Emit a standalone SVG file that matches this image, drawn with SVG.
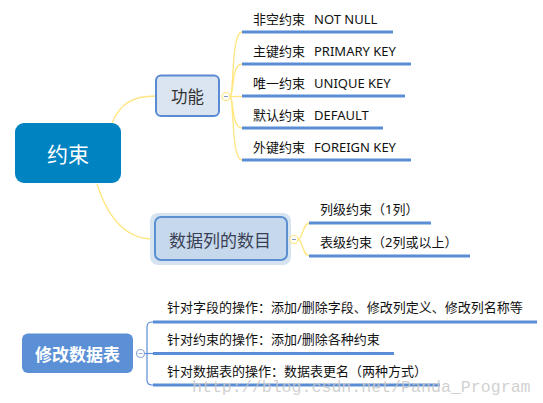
<svg xmlns="http://www.w3.org/2000/svg" width="543" height="403" viewBox="0 0 543 403">
<style>
.leaf{font-family:"Noto Sans","Noto Sans CJK SC",sans-serif;font-size:13px;fill:#111}
.bar{stroke:#5b8dd6;stroke-width:3;fill:none}
.ycon{stroke:#ffe680;stroke-width:1.3;fill:none}
.bcon{stroke:#5b8dd6;stroke-width:1.2;fill:none}
.mid{font-family:"Noto Sans CJK SC",sans-serif;text-anchor:middle;dominant-baseline:central}
</style>
<rect width="543" height="403" fill="#ffffff"/>
<g id="connectors">
  <path class="ycon" d="M112,123 C120,104 132,96 156,96"/>
  <path class="ycon" d="M97,184 C108,218 125,239 153,239"/>
  <path class="ycon" d="M230,96.5 C234,96.5 231,32 242,32"/>
  <path class="ycon" d="M230,96.5 C234,96.5 231,64 242,64"/>
  <path class="ycon" d="M230,96.5 L242,96.5"/>
  <path class="ycon" d="M230,96.5 C234,96.5 231,128 242,128"/>
  <path class="ycon" d="M230,96.5 C234,96.5 231,160 242,160"/>
  <path class="ycon" d="M298,239.5 C303,239.5 302,223 310,223"/>
  <path class="ycon" d="M298,239.5 C303,239.5 302,256 310,256"/>
  <path class="bcon" d="M145,353.5 L154,353.5"/>
  <path class="bcon" d="M154,322 L152,322 Q147,322 147,327 L147,380 Q147,385 152,385 L154,385"/>
</g>
<g id="root">
  <rect x="15" y="123" width="106" height="60" rx="9" fill="#0083c1"/>
  <text x="68" y="153" class="mid" font-size="21" fill="#ffffff">约束</text>
</g>
<g id="gongneng">
  <rect x="156" y="75.5" width="63" height="40.5" rx="5" fill="#dbe5f1" stroke="#5a8ad2" stroke-width="2"/>
  <text x="187.5" y="96" class="mid" font-size="16.5" fill="#333">功能</text>
  <circle cx="226" cy="96.5" r="4" fill="#fff" stroke="#ffe680" stroke-width="1.2"/>
  <path d="M224,96.5 h4" stroke="#8899bb" stroke-width="1"/>
</g>
<g id="c1"><text class="leaf" x="253" y="23.5">非空约束 <tspan x="314">NOT NULL</tspan></text><path class="bar" d="M242,32 H393"/></g>
<g id="c2"><text class="leaf" x="253" y="55.5">主键约束 <tspan x="314">PRIMARY KEY</tspan></text><path class="bar" d="M242,64 H411"/></g>
<g id="c3"><text class="leaf" x="253" y="87.5">唯一约束 <tspan x="314">UNIQUE KEY</tspan></text><path class="bar" d="M242,96 H405"/></g>
<g id="c4"><text class="leaf" x="253" y="119.5">默认约束 <tspan x="314">DEFAULT</tspan></text><path class="bar" d="M242,128 H383"/></g>
<g id="c5"><text class="leaf" x="253" y="151.5">外键约束 <tspan x="314">FOREIGN KEY</tspan></text><path class="bar" d="M242,160 H411"/></g>
<g id="shujulie">
  <rect x="150" y="213" width="141" height="52" rx="8" fill="#d6e3f0"/>
  <rect x="155" y="217" width="132" height="43" rx="6" fill="#c6d9ec" stroke="#5b8fd2" stroke-width="2"/>
  <text x="220" y="239" class="mid" font-size="17" fill="#3a3f55">数据列的数目</text>
  <circle cx="294" cy="239.5" r="4" fill="#fff" stroke="#ffe680" stroke-width="1.2"/>
  <path d="M292,239.5 h4" stroke="#8899bb" stroke-width="1"/>
</g>
<g id="d1"><text class="leaf" x="320" y="213.5">列级约束（1列）</text><path class="bar" d="M309,223 H431"/></g>
<g id="d2"><text class="leaf" x="320" y="247">表级约束（2列或以上）</text><path class="bar" d="M309,256 H470"/></g>
<g id="xiugai">
  <rect x="22" y="333.5" width="111" height="39.5" rx="6" fill="#5b8fd6"/>
  <text x="77.5" y="353.5" class="mid" font-size="17" font-weight="bold" fill="#ffffff">修改数据表</text>
  <circle cx="140.5" cy="353.5" r="4" fill="#fff" stroke="#8fa9d6" stroke-width="1.2"/>
  <path d="M138.5,353.5 h4" stroke="#8fa9d6" stroke-width="1"/>
</g>
<g id="e1"><text class="leaf" x="167" y="312">针对字段的操作：添加/删除字段、修改列定义、修改列名称等</text><path class="bar" d="M153,322 H537"/></g>
<g id="e2"><text class="leaf" x="167" y="344">针对约束的操作：添加/删除各种约束</text><path class="bar" d="M153,353.5 H394"/></g>
<g id="e3"><text class="leaf" x="167" y="376">针对数据表的操作：数据表更名（两种方式）</text><path class="bar" d="M153,385 H440"/></g>
<text x="192" y="392" font-family="Liberation Mono,monospace" font-size="16.6" fill="#c8c8c8" fill-opacity="0.85">http://blog.csdn.net/Panda_Program</text>
</svg>
